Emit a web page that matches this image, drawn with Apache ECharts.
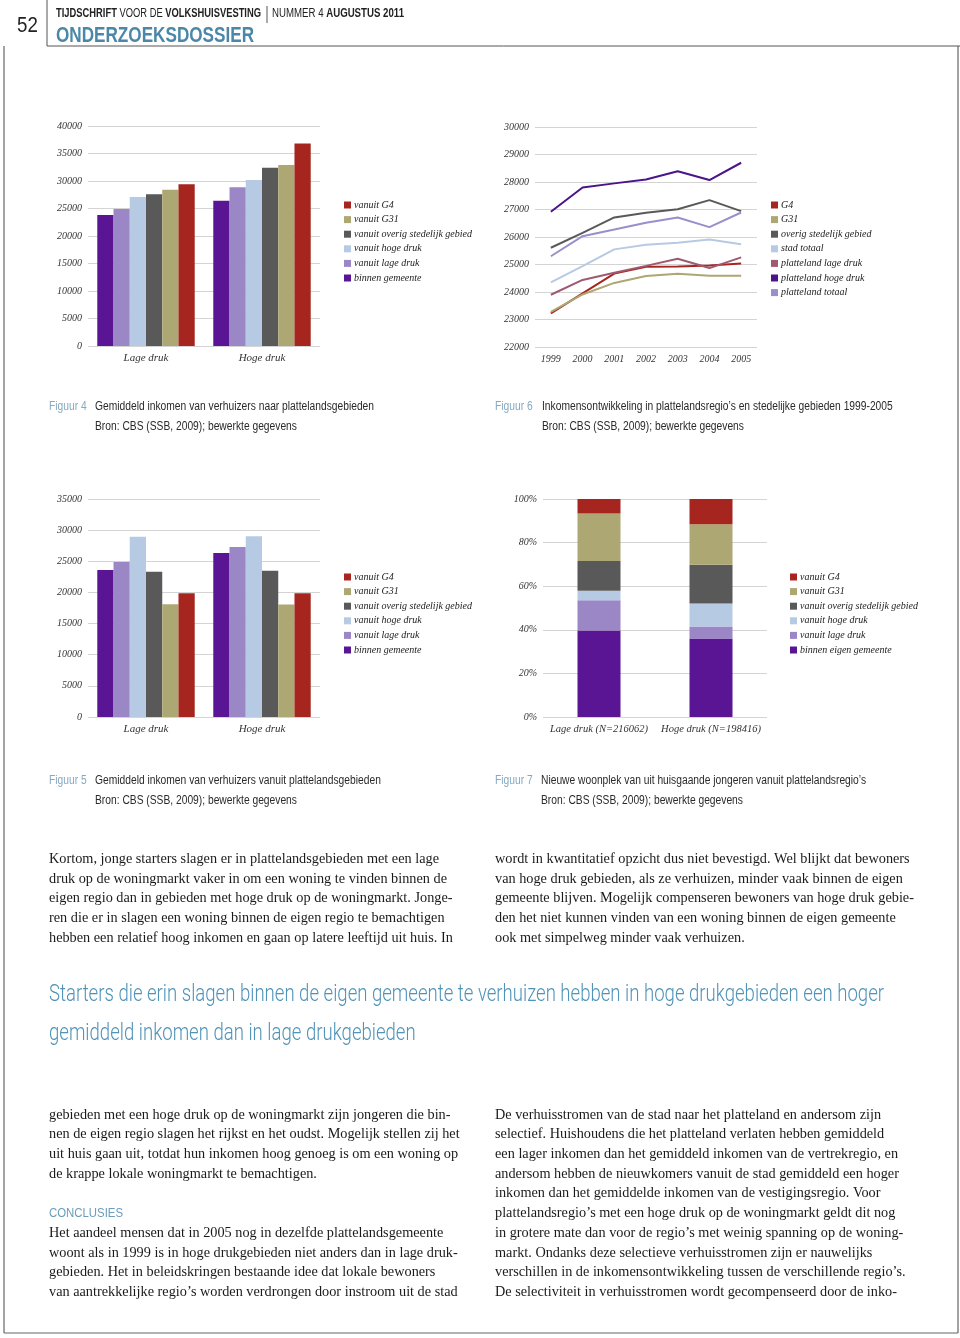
<!DOCTYPE html>
<html><head><meta charset="utf-8">
<script src="https://cdn.jsdelivr.net/npm/echarts@6/dist/echarts.min.js"></script>
<style>html,body{margin:0;padding:0;background:#fff}#c{width:960px;height:1338px}</style>
</head><body><div id="c"></div>
<script>
// ---------- DATA ----------
const barCategories = ['Lage druk', 'Hoge druk'];
const barNames = ['binnen gemeente', 'vanuit lage druk', 'vanuit hoge druk', 'vanuit overig stedelijk gebied', 'vanuit G31', 'vanuit G4'];
const barColors = ['#5a1595', '#9b86c6', '#b7cae3', '#595959', '#ada773', '#a6261f'];

// Figuur 4
const fig4Binnen = [23800, 26400];
const fig4Lage = [24900, 28850];
const fig4Hoge = [27100, 30200];
const fig4Overig = [27600, 32400];
const fig4G31 = [28400, 32900];
const fig4G4 = [29400, 36800];

// Figuur 5
const fig5Binnen = [23600, 26350];
const fig5Lage = [24900, 27300];
const fig5Hoge = [28950, 29000];
const fig5Overig = [23300, 23500];
const fig5G31 = [18100, 18050];
const fig5G4 = [19850, 19850];

// Figuur 6
const fig6Years = ['1999', '2000', '2001', '2002', '2003', '2004', '2005'];
const fig6Names = ['G4', 'G31', 'overig stedelijk gebied', 'stad totaal', 'platteland lage druk', 'platteland hoge druk', 'platteland totaal'];
const fig6Colors = ['#a6261f', '#ada773', '#595959', '#b7cae3', '#a05a70', '#4b1488', '#9a8fcb'];
const fig6G4 = [23220, 23950, 24670, 24920, 24930, 24960, 25040];
const fig6G31 = [23280, 23910, 24330, 24580, 24660, 24590, 24590];
const fig6Overig = [25610, 26150, 26710, 26880, 27010, 27340, 26940];
const fig6Stad = [24350, 24940, 25550, 25720, 25790, 25910, 25740];
const fig6PlatLage = [23900, 24440, 24700, 24950, 25210, 24870, 25260];
const fig6PlatHoge = [26920, 27800, 27950, 28090, 28390, 28070, 28700];
const fig6PlatTotaal = [25300, 26030, 26270, 26520, 26710, 26360, 26890];

// Figuur 7 (percentages)
const fig7Categories = ['Lage druk (N=216062)', 'Hoge druk (N=198416)'];
const fig7Names = ['binnen eigen gemeente', 'vanuit lage druk', 'vanuit hoge druk', 'vanuit overig stedelijk gebied', 'vanuit G31', 'vanuit G4'];
const fig7Binnen = [39.7, 36.0];
const fig7Lage = [13.9, 5.5];
const fig7Hoge = [4.3, 10.6];
const fig7Overig = [13.7, 17.7];
const fig7G31 = [21.7, 18.6];
const fig7G4 = [6.7, 11.6];

// ---------- TEXT ----------
const headerLeft = [['TIJDSCHRIFT', 'bold'], [' VOOR DE ', 'normal'], ['VOLKSHUISVESTING', 'bold']];
const headerRight = [['NUMMER 4 ', 'normal'], ['AUGUSTUS 2011', 'bold']];
const sectionTitle = 'ONDERZOEKSDOSSIER';
const pageNumber = '52';
const captions = [
  ['Figuur 4', 'Gemiddeld inkomen van verhuizers naar plattelandsgebieden', 49, 95, 407],
  ['Figuur 6', 'Inkomensontwikkeling in plattelandsregio’s en stedelijke gebieden 1999-2005', 495, 542, 407],
  ['Figuur 5', 'Gemiddeld inkomen van verhuizers vanuit plattelandsgebieden', 49, 95, 781],
  ['Figuur 7', 'Nieuwe woonplek van uit huisgaande jongeren vanuit plattelandsregio’s', 495, 541, 781]
];
const sourceText = 'Bron: CBS (SSB, 2009); bewerkte gegevens';
const body1Left = [
  'Kortom, jonge starters slagen er in plattelandsgebieden met een lage',
  'druk op de woningmarkt vaker in om een woning te vinden binnen de',
  'eigen regio dan in gebieden met hoge druk op de woningmarkt. Jonge-',
  'ren die er in slagen een woning binnen de eigen regio te bemachtigen',
  'hebben een relatief hoog inkomen en gaan op latere leeftijd uit huis. In'
];
const body1Right = [
  'wordt in kwantitatief opzicht dus niet bevestigd. Wel blijkt dat bewoners',
  'van hoge druk gebieden, als ze verhuizen, minder vaak binnen de eigen',
  'gemeente blijven. Mogelijk compenseren bewoners van hoge druk gebie-',
  'den het niet kunnen vinden van een woning binnen de eigen gemeente',
  'ook met simpelweg minder vaak verhuizen.'
];
const quoteLines = [
  'Starters die erin slagen binnen de eigen gemeente te verhuizen hebben in hoge drukgebieden een hoger',
  'gemiddeld inkomen dan in lage drukgebieden'
];
const body2Left = [
  'gebieden met een hoge druk op de woningmarkt zijn jongeren die bin-',
  'nen de eigen regio slagen het rijkst en het oudst. Mogelijk stellen zij het',
  'uit huis gaan uit, totdat hun inkomen hoog genoeg is om een woning op',
  'de krappe lokale woningmarkt te bemachtigen.',
  null,
  null,
  'Het aandeel mensen dat in 2005 nog in dezelfde plattelandsgemeente',
  'woont als in 1999 is in hoge drukgebieden niet anders dan in lage druk-',
  'gebieden. Het in beleidskringen bestaande idee dat lokale bewoners',
  'van aantrekkelijke regio’s worden verdrongen door instroom uit de stad'
];
const body2Right = [
  'De verhuisstromen van de stad naar het platteland en andersom zijn',
  'selectief. Huishoudens die het platteland verlaten hebben gemiddeld',
  'een lager inkomen dan het gemiddeld inkomen van de vertrekregio, en',
  'andersom hebben de nieuwkomers vanuit de stad gemiddeld een hoger',
  'inkomen dan het gemiddelde inkomen van de vestigingsregio. Voor',
  'plattelandsregio’s met een hoge druk op de woningmarkt geldt dit nog',
  'in grotere mate dan voor de regio’s met weinig spanning op de woning-',
  'markt. Ondanks deze selectieve verhuisstromen zijn er nauwelijks',
  'verschillen in de inkomensontwikkeling tussen de verschillende regio’s.',
  'De selectiviteit in verhuisstromen wordt gecompenseerd door de inko-'
];
const conclusiesTitle = 'CONCLUSIES';

// ---------- HELPERS ----------
const ctx = document.createElement('canvas').getContext('2d');
function mw(font, t) { ctx.font = font; return ctx.measureText(t).width; }
const graphics = [];
function txt(t, x, y, font, fill, sx) {
  graphics.push({ type: 'text', x: x, y: y, scaleX: sx || 1, silent: true,
    style: { text: t, font: font, fill: fill, textAlign: 'left', textVerticalAlign: 'middle', align: 'left', verticalAlign: 'middle' } });
}
function line(x1, y1, x2, y2, c, w) {
  graphics.push({ type: 'line', silent: true, shape: { x1: x1, y1: y1, x2: x2, y2: y2 }, style: { stroke: c, lineWidth: w || 1 } });
}
function run(pieces, x, y, size, fam, fill, target) {
  const fonts = pieces.map(p => p[1] + ' ' + size + 'px ' + fam);
  const widths = pieces.map((p, i) => mw(fonts[i], p[0]));
  const total = widths.reduce((a, b) => a + b, 0);
  const s = target / total;
  let cx = x;
  pieces.forEach((p, i) => { txt(p[0], cx, y, fonts[i], fill, s); cx += widths[i] * s; });
}

// page frame & header
const SANS = '"Liberation Sans", Arial, sans-serif';
const SERIF = '"Liberation Serif", "Times New Roman", serif';
line(47, 0, 47, 46, '#555', 1);
line(47, 46, 960, 46, '#555', 1);
line(267, 6, 267, 23, '#555', 1);
line(4, 46, 4, 1333, '#666', 1.2);
line(4, 1333, 958, 1333, '#666', 1.2);
line(958, 46, 958, 1333, '#666', 1.2);
txt(pageNumber, 17, 26, '22px ' + SANS, '#222', 0.85);
run(headerLeft, 56, 14, 12, SANS, '#222', 205);
run(headerRight, 272, 14, 12, SANS, '#222', 132);
run([[sectionTitle, 'bold']], 56, 36, 22, SANS, '#4b87a8', 198);

// captions
const capFont = '12px ' + SANS;
const capScale = 279 / mw(capFont, captions[0][1]);
captions.forEach(c => {
  txt(c[0], c[2], c[4], capFont, '#86a9c1', capScale);
  txt(c[1], c[3], c[4], capFont, '#2a2a2a', capScale);
  txt(sourceText, c[3], c[4] + 20, capFont, '#2a2a2a', capScale);
});

// body text
const bodyFont = '14.5px ' + SERIF;
const bodyScale = 390 / mw(bodyFont, body1Left[0]);
body1Left.forEach((t, i) => txt(t, 49, 859 + i * 19.7, bodyFont, '#1a1a1a', bodyScale));
body1Right.forEach((t, i) => txt(t, 495, 859 + i * 19.7, bodyFont, '#1a1a1a', bodyScale));
body2Left.forEach((t, i) => { if (t) txt(t, 49, 1115 + i * 19.67, bodyFont, '#1a1a1a', bodyScale); });
body2Right.forEach((t, i) => txt(t, 495, 1115 + i * 19.67, bodyFont, '#1a1a1a', bodyScale));
const conFont = '13px ' + SANS;
txt(conclusiesTitle, 49, 1213, conFont, '#6b9cbb', 74 / mw(conFont, conclusiesTitle));

// pull quote
const qFont = '300 24px Roboto, ' + SANS;
const qScale = 835 / mw(qFont, quoteLines[0]);
quoteLines.forEach((t, i) => txt(t, 49, 995 + i * 39, qFont, '#4f93b8', qScale));

// ---------- CHART ----------
const axisFont = { fontFamily: SERIF, fontStyle: 'italic', fontSize: 10, color: '#333' };
const splitGray = { show: true, lineStyle: { color: '#d4d4d4', width: 1 } };
function valAxis(gi, min, max, interval, suffix) {
  return { type: 'value', gridIndex: gi, min: min, max: max, interval: interval,
    axisLine: { show: false }, axisTick: { show: false }, splitLine: splitGray,
    axisLabel: Object.assign({ margin: 6, formatter: v => String(v) + (suffix || '') }, axisFont) };
}
function catAxis(gi, data, size) {
  return { type: 'category', gridIndex: gi, data: data, boundaryGap: true,
    axisLine: { show: false }, axisTick: { show: false },
    axisLabel: Object.assign({}, axisFont, { fontSize: size || 11, margin: 7, interval: 0 }) };
}
function legend(left, top, names) {
  return { left: left, top: top, orient: 'vertical', icon: 'rect', itemWidth: 7, itemHeight: 7,
    itemGap: 4.6, selectedMode: false, data: names.slice().reverse(),
    textStyle: { fontFamily: SERIF, fontStyle: 'italic', fontSize: 10, lineHeight: 10, color: '#222', padding: [0, 0, 0, -2] } };
}

const fig4Data = [fig4Binnen, fig4Lage, fig4Hoge, fig4Overig, fig4G31, fig4G4];
const fig5Data = [fig5Binnen, fig5Lage, fig5Hoge, fig5Overig, fig5G31, fig5G4];
const fig6Data = [fig6G4, fig6G31, fig6Overig, fig6Stad, fig6PlatLage, fig6PlatHoge, fig6PlatTotaal];
const fig7Data = [fig7Binnen, fig7Lage, fig7Hoge, fig7Overig, fig7G31, fig7G4];

const series = [];
barNames.forEach((n, i) => series.push({ type: 'bar', name: n, xAxisIndex: 0, yAxisIndex: 0, data: fig4Data[i],
  barGap: '0%', barCategoryGap: '16%', itemStyle: { color: barColors[i] }, silent: true }));
fig6Names.forEach((n, i) => series.push({ type: 'line', name: n, xAxisIndex: 1, yAxisIndex: 1, data: fig6Data[i],
  symbol: 'none', lineStyle: { color: fig6Colors[i], width: 2 }, itemStyle: { color: fig6Colors[i] }, silent: true, z: 3 + (i === 5 ? 1 : 0) }));
barNames.forEach((n, i) => series.push({ type: 'bar', name: n, xAxisIndex: 2, yAxisIndex: 2, data: fig5Data[i],
  barGap: '0%', barCategoryGap: '16%', itemStyle: { color: barColors[i] }, silent: true }));
fig7Names.forEach((n, i) => series.push({ type: 'bar', name: n, xAxisIndex: 3, yAxisIndex: 3, data: fig7Data[i],
  stack: 'f7', barWidth: 43, itemStyle: { color: barColors[i] }, silent: true }));

const legend6 = legend(766, 195, fig6Names);
legend6.data = fig6Names.slice();

const option = {
  animation: false,
  backgroundColor: '#fff',
  grid: [
    { left: 88, top: 126, width: 232, height: 220 },
    { left: 535, top: 127, width: 222, height: 220 },
    { left: 88, top: 499, width: 232, height: 218 },
    { left: 543, top: 499, width: 224, height: 218 }
  ],
  xAxis: [catAxis(0, barCategories), catAxis(1, fig6Years, 10), catAxis(2, barCategories), catAxis(3, fig7Categories, 10.5)],
  yAxis: [valAxis(0, 0, 40000, 5000), valAxis(1, 22000, 30000, 1000), valAxis(2, 0, 35000, 5000), valAxis(3, 0, 100, 20, '%')],
  legend: [legend(339, 195, barNames), legend6, legend(339, 567, barNames), legend(785, 567, fig7Names)],
  series: series,
  graphic: graphics
};
const chart = echarts.init(document.getElementById('c'), null, { renderer: 'canvas', width: 960, height: 1338 });
chart.setOption(option);
</script></body></html>
